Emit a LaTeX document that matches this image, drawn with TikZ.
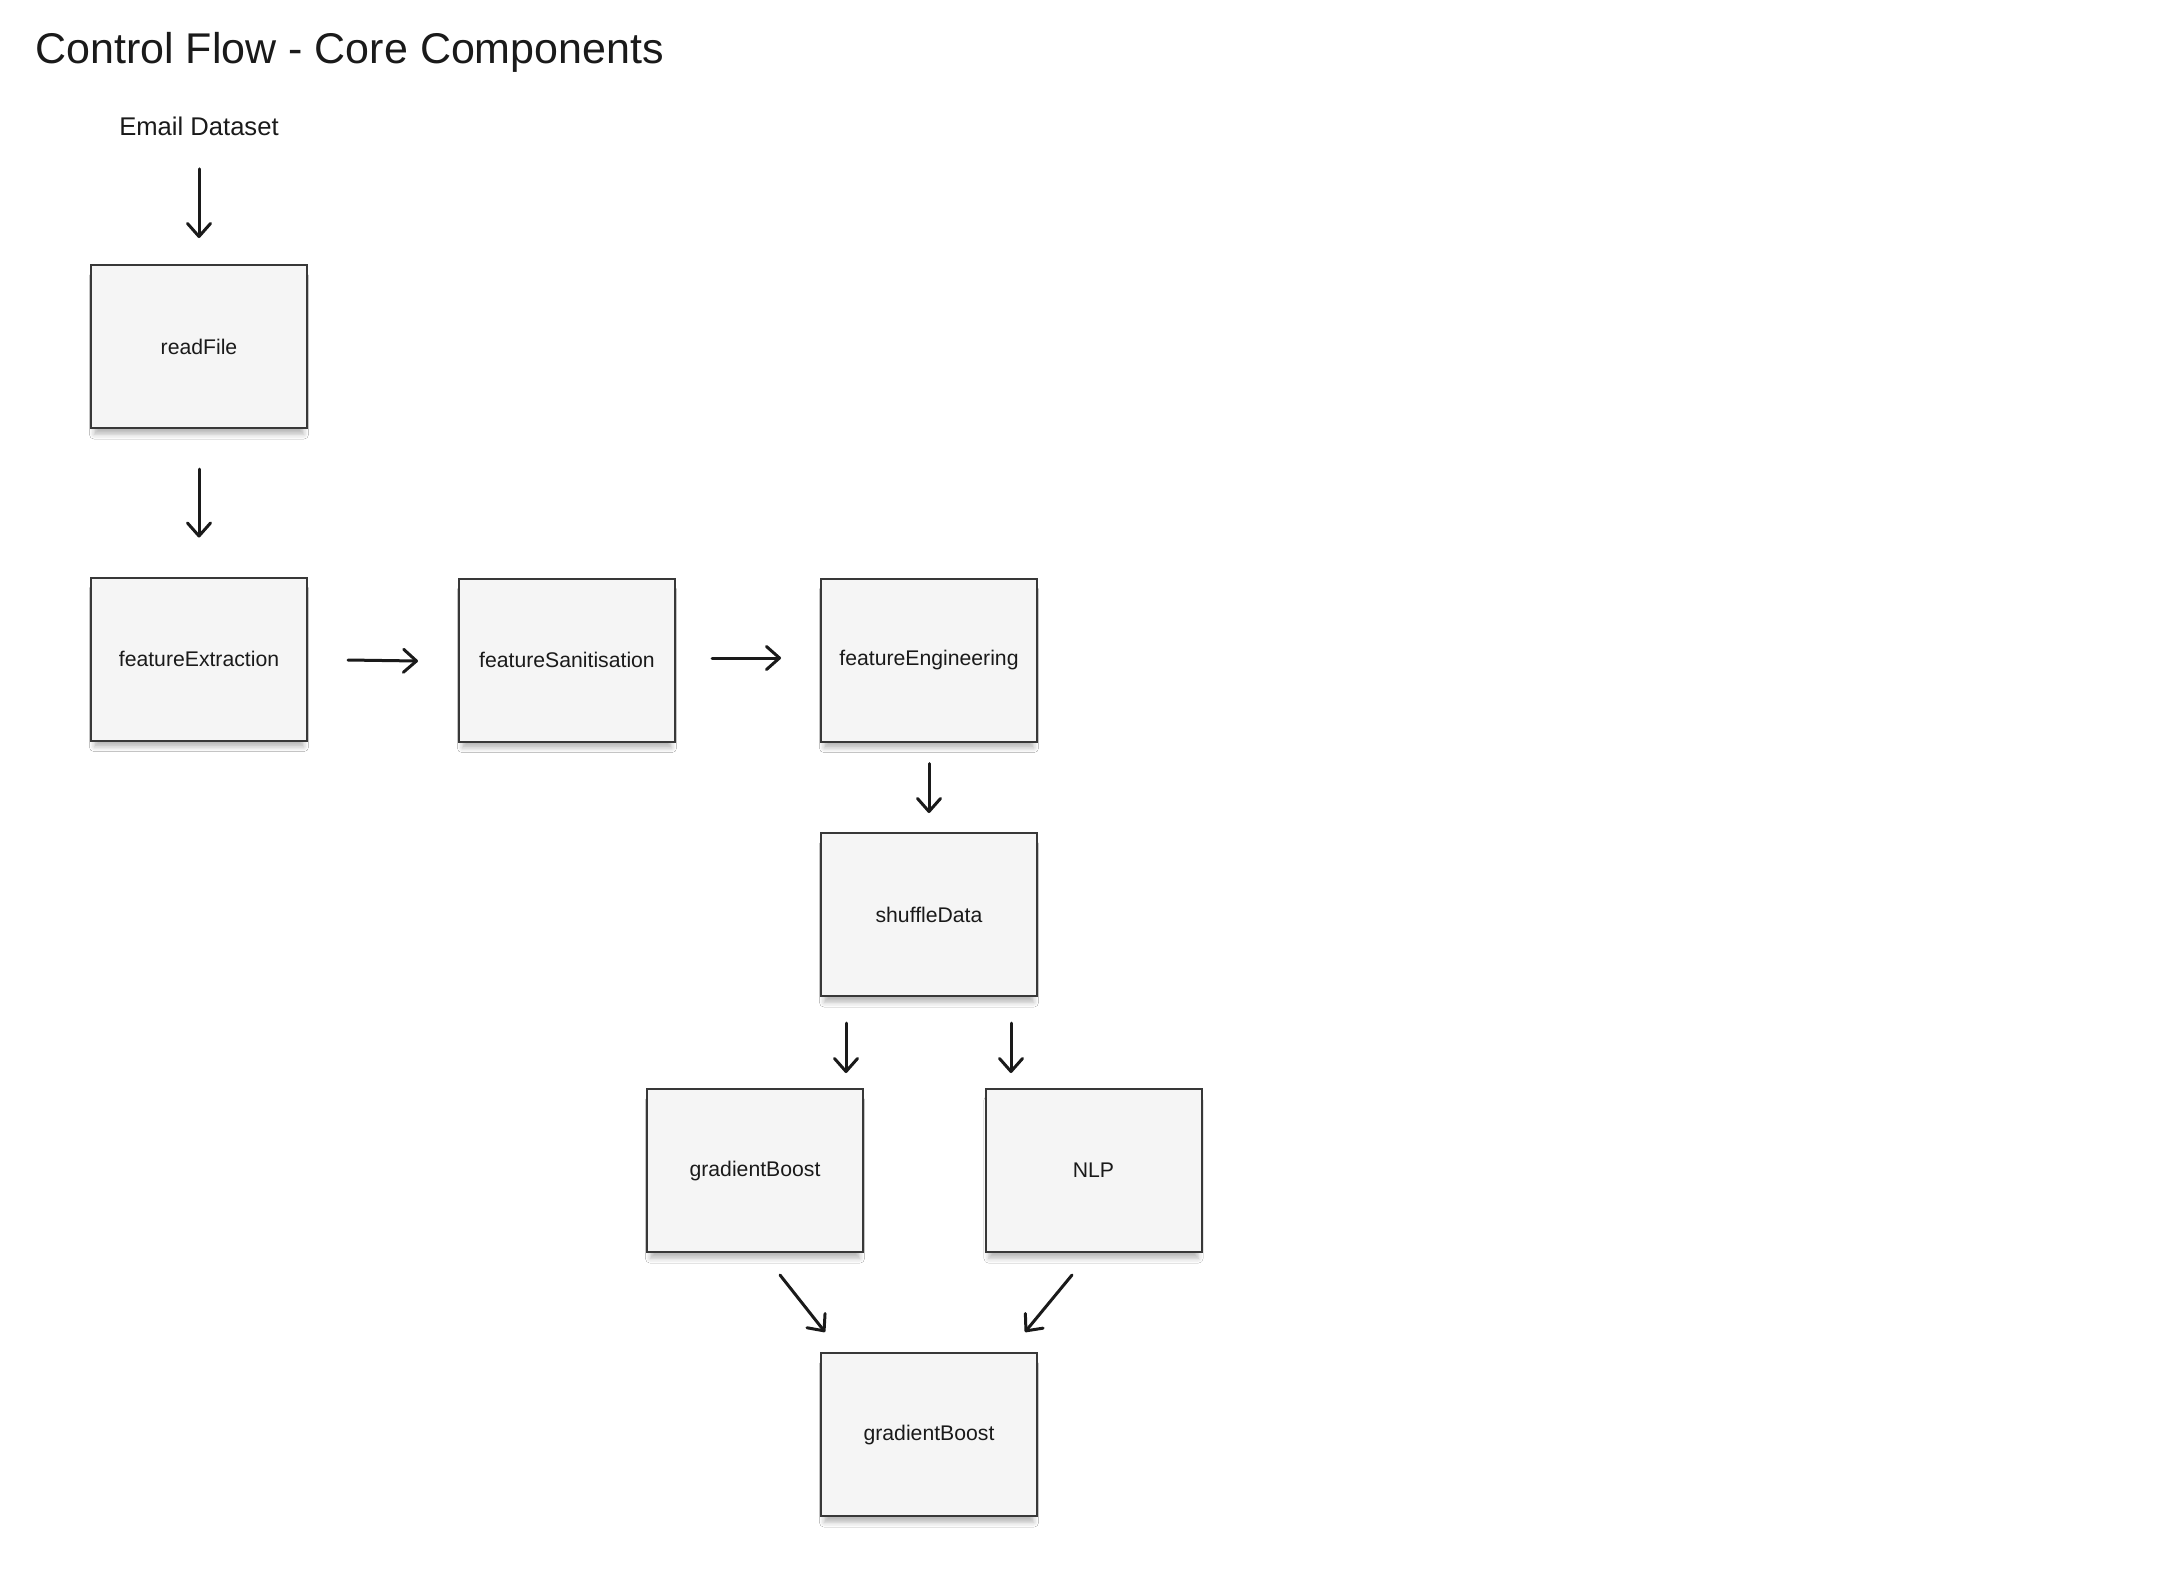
\documentclass[tikz,border=0pt]{standalone}
\usepackage{fontspec}
\setmainfont{Liberation Sans}
\usetikzlibrary{arrows.meta,calc,shadows.blur}
\definecolor{boxfill}{HTML}{F5F5F5}
\definecolor{boxline}{HTML}{383838}
\definecolor{ink}{HTML}{1A1A1A}
\tikzset{
  procbox/.style={draw=boxline, fill=boxfill, line width=1pt, minimum width=108pt, minimum height=81.5pt, inner sep=0pt,
    font=\fontsize{10.6pt}{12pt}\selectfont, text=ink,
    blur shadow={shadow xshift=0pt, shadow yshift=-4.5pt, shadow scale=0.97, shadow blur radius=2.5pt, shadow opacity=28}},
  arr/.style={-{Straight Barb[round,length=6.5pt,width=11.5pt,line width=1.5pt]}, line width=1.5pt, line cap=round, ink},
}
\begin{document}
\begin{tikzpicture}[x=0.5pt,y=-0.5pt]
\useasboundingbox[fill=white] (0,0) rectangle (2168,1570);
\node[anchor=west, inner sep=0pt, font=\fontsize{21.5pt}{24pt}\selectfont, text=ink] (title) at (35,52) {Control Flow - Core Components};
\node[inner sep=0pt, font=\fontsize{12.8pt}{15pt}\selectfont, text=ink] (email) at (199,126) {Email Dataset};
\node[procbox] (read) at (199,346.5) {readFile};
\node[procbox] (fext) at (199,659) {featureExtraction};
\node[procbox] (fsan) at (567,660) {featureSanitisation};
\node[procbox] (feng) at (929,660) {featureEngineering};
\node[procbox] (shuf) at (929,914.5) {shuffleData};
\node[procbox] (gb) at (755,1170.5) {gradientBoost};
\node[procbox] (nlp) at (1093.5,1170.5) {NLP};
\node[procbox] (gbf) at (929,1434.5) {gradientBoost};
\draw[arr] ($(email.south)+(0,33)$) -- ($(read.north)+(0,-26)$);
\draw[arr] ($(read.south)+(0,40)$) -- ($(fext.north)+(0,-39)$);
\draw[arr] ($(fext.east)+(40,1)$) -- ($(fsan.west)+(-40,1)$);
\draw[arr] ($(fsan.east)+(36,-2)$) -- ($(feng.west)+(-39,-2)$);
\draw[arr] ($(feng.south)+(0,21)$) -- ($(shuf.north)+(0,-19)$);
\draw[arr] ($(shuf.south)+(-83,26)$) -- ($(gb.north)+(91,-15)$);
\draw[arr] ($(shuf.south)+(82,26)$) -- ($(nlp.north)+(-82.5,-15)$);
\draw[arr] ($(gb.south)+(25,22)$) -- ($(gbf.north)+(-104,-20)$);
\draw[arr] ($(nlp.south)+(-21.5,22)$) -- ($(gbf.north)+(96,-20)$);
\end{tikzpicture}
\end{document}
